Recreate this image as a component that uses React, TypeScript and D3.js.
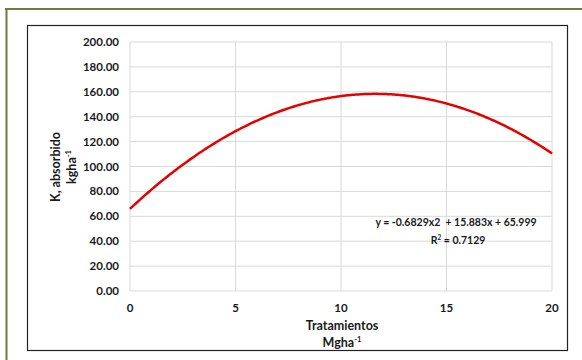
import React from "react";
import * as d3 from "d3";

// Quadratic trendline coefficients [a, b, c] for y = a*x^2 + b*x + c
const trendCoefficients = [-0.6829, 15.883, 65.999];
const rSquared = 0.7129;
const xDomain = [0, 20];
const yDomain = [0, 200];
const xTicks = [0, 5, 10, 15, 20];
const yTicks = [0, 20, 40, 60, 80, 100, 120, 140, 160, 180, 200];
const equationText = "y = -0.6829x2  + 15.883x + 65.999";

const W = 582;
const H = 360;
const FONT = "Lato, 'Open Sans', sans-serif";
const INK = "#1a1a1a";

export default function App() {
  const plot = { left: 130, right: 552, top: 42, bottom: 291 };
  const x = d3.scaleLinear().domain(xDomain).range([plot.left, plot.right]);
  const y = d3.scaleLinear().domain(yDomain).range([plot.bottom, plot.top]);

  const [a, b, c] = trendCoefficients;
  const samples = d3.range(xDomain[0], xDomain[1] + 0.001, 0.1).map((t) => [t, a * t * t + b * t + c]);
  const line = d3
    .line<number[]>()
    .x((d) => x(d[0]))
    .y((d) => y(d[1]))
    .curve(d3.curveMonotoneX);

  return (
    <svg
      width={W}
      height={H}
      style={{ position: "absolute", left: 0, top: 0, background: "#fff" }}
      fontFamily={FONT}
    >
      {/* page frame */}
      <line x1={5} x2={W} y1={9} y2={9} stroke="#6f7b3c" strokeWidth={2} />
      <line x1={6.5} x2={6.5} y1={8} y2={H} stroke="#6f7b3c" strokeWidth={2} />

      {/* chart border */}
      <rect x={27.5} y={25.5} width={540} height={325} fill="#fff" stroke="#222" strokeWidth={1.2} />

      {/* gridlines */}
      {yTicks.map((t) => (
        <line key={"gy" + t} x1={plot.left} x2={plot.right} y1={y(t)} y2={y(t)} stroke="#d9d9d9" strokeWidth={1} />
      ))}
      {xTicks.map((t) => (
        <line key={"gx" + t} x1={x(t)} x2={x(t)} y1={plot.top} y2={plot.bottom} stroke="#d9d9d9" strokeWidth={1} />
      ))}

      {/* y tick labels */}
      {yTicks.map((t) => (
        <text
          key={"ty" + t}
          x={119}
          y={y(t)}
          dy="0.35em"
          textAnchor="end"
          fontSize={11.5}
          fontWeight="bold"
          fill={INK}
        >
          {t.toFixed(2)}
        </text>
      ))}

      {/* x tick labels */}
      {xTicks.map((t) => (
        <text
          key={"tx" + t}
          x={x(t)}
          y={308}
          dy="0.35em"
          textAnchor="middle"
          fontSize={11.5}
          fontWeight="bold"
          fill={INK}
        >
          {t}
        </text>
      ))}

      {/* trendline */}
      <path d={line(samples) || ""} fill="none" stroke="#e60000" strokeWidth={2.5} />

      {/* equation */}
      <text
        x={456}
        y={222}
        dy="0.35em"
        textAnchor="middle"
        fontSize={10.5}
        fontWeight="bold"
        fill={INK}
        style={{ whiteSpace: "pre" }}
      >
        {equationText}
      </text>
      <text x={458} y={240.5} dy="0.35em" textAnchor="middle" fontSize={10.5} fontWeight="bold" fill={INK}>
        R<tspan fontSize={6.5} dy="-4">2</tspan>
        <tspan dy="4">{" = " + rSquared}</tspan>
      </text>

      {/* x axis title */}
      <text x={342} y={326} dy="0.35em" textAnchor="middle" fontSize={12.5} fontWeight="bold" fill={INK}>
        Tratamientos
      </text>
      <text x={342} y={343} dy="0.35em" textAnchor="middle" fontSize={12.5} fontWeight="bold" fill={INK}>
        Mgha<tspan fontSize={7.5} dy="-5">-1</tspan>
      </text>

      {/* y axis title */}
      <g transform="translate(56,167) rotate(-90)">
        <text x={0} y={0} dy="0.35em" textAnchor="middle" fontSize={12.5} fontWeight="bold" fill={INK}>
          K, absorbido
        </text>
      </g>
      <g transform="translate(72,167) rotate(-90)">
        <text x={0} y={0} dy="0.35em" textAnchor="middle" fontSize={12.5} fontWeight="bold" fill={INK}>
          kgha<tspan fontSize={7.5} dy="-5">-1</tspan>
        </text>
      </g>
    </svg>
  );
}
